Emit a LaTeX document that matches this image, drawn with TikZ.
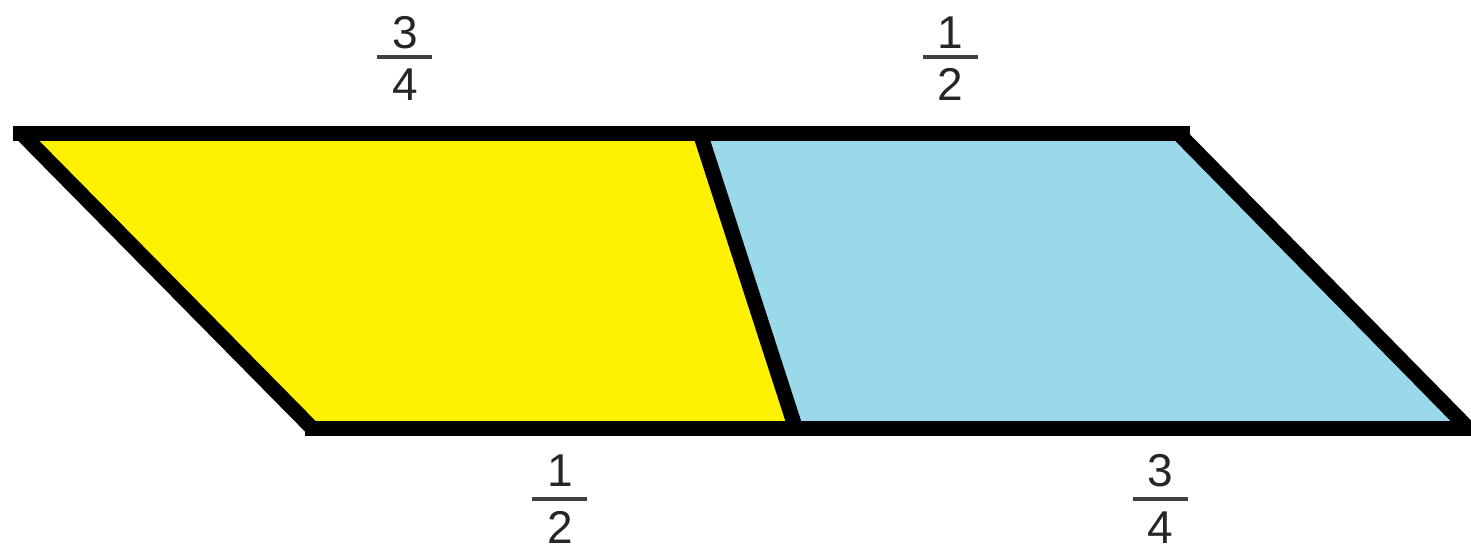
\documentclass[tikz,border=0pt]{standalone}
\usepackage{fontspec}
\setmainfont{Liberation Sans}
\definecolor{pyellow}{RGB}{255,242,0}
\definecolor{pblue}{RGB}{153,217,234}
\begin{document}
\begin{tikzpicture}[x=1pt,y=-1pt,
  edge/.style={line width=15pt, line cap=butt},
  digit/.style={font=\fontsize{46}{50}\selectfont, inner sep=0pt, anchor=base, text=black!85},
  fbar/.style={line width=4pt, draw=black!75}]
\useasboundingbox (0,0) rectangle (1471,552);
% corners
\coordinate (tle) at (13,133);
\coordinate (tl) at (21,133);
\coordinate (tm) at (700,133);
\coordinate (tr) at (1178,133);
\coordinate (tre) at (1190,133);
\coordinate (ble) at (305,428);
\coordinate (bl) at (312,428);
\coordinate (bm) at (795.5,428);
\coordinate (br) at (1468,428);
\coordinate (bre) at (1471,428);
% fills
\fill[pyellow] (tl) -- (tm) -- (bm) -- (bl) -- cycle;
\fill[pblue] (tm) -- (tr) -- (br) -- (bm) -- cycle;
% edges
\draw[edge] (tle) -- (tre);
\draw[edge] (ble) -- (bre);
\draw[edge] (tl) -- (bl);
\draw[edge] (tr) -- (br);
\draw[edge] (tm) -- (bm);
% fractions
\node[digit] (n1) at (405,48) {3};
\node[digit] (d1) at (405,100) {4};
\draw[fbar] (377,57) -- (432,57);
\node[digit] (n2) at (950,48) {1};
\node[digit] (d2) at (950,100) {2};
\draw[fbar] (923,57) -- (978,57);
\node[digit] (n3) at (560,486) {1};
\node[digit] (d3) at (560,543) {2};
\draw[fbar] (532,499) -- (587,499);
\node[digit] (n4) at (1160,486) {3};
\node[digit] (d4) at (1160,543) {4};
\draw[fbar] (1133,499) -- (1188,499);
\end{tikzpicture}
\end{document}
